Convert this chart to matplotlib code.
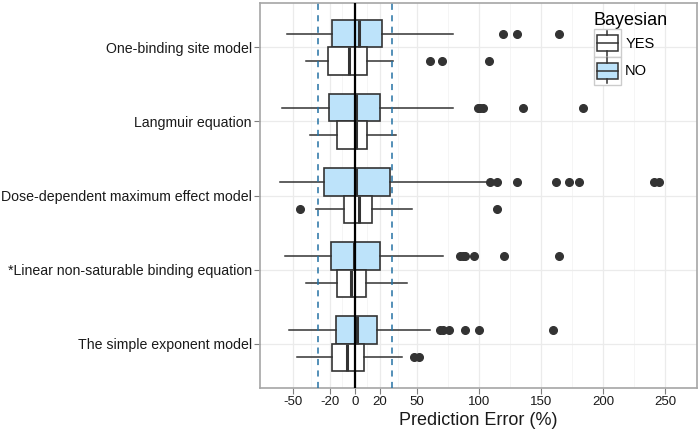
import matplotlib
matplotlib.use("Agg")
import matplotlib.pyplot as plt
import numpy as np
from matplotlib.legend_handler import HandlerBase
from matplotlib.patches import Rectangle, Patch
from matplotlib.lines import Line2D

plt.rcParams["font.family"] = ["Liberation Sans", "DejaVu Sans"]

models = [
    "One-binding site model",
    "Langmuir equation",
    "Dose-dependent maximum effect model",
    "*Linear non-saturable binding equation",
    "The simple exponent model",
]

# Bayesian = NO
no_whislo = [-55, -59, -60, -56, -53]
no_q1 = [-18.5, -20.5, -24.5, -19.5, -15.5]
no_med = [3.5, 0.8, 0.8, -1, 2]
no_q3 = [22, 20, 28, 20.5, 18]
no_whishi = [79.5, 79.5, 106, 71, 61]
no_fliers = [
    [119.5, 131, 165],
    [99, 101, 103, 135.5, 184],
    [109, 115, 131, 162, 173, 180.5, 241.5, 245],
    [84.5, 87, 89, 96.5, 120, 165],
    [69, 71, 76, 89, 100, 160],
]

# Bayesian = YES
yes_whislo = [-39.5, -36.5, -31, -39.5, -46.5]
yes_q1 = [-22, -14.5, -9, -14.5, -18]
yes_med = [-4.5, 1, 3, -3, -6]
yes_q3 = [10, 10, 14, 9, 7.5]
yes_whishi = [30.5, 33.5, 46, 42, 38]
yes_fliers = [
    [61, 70.5, 108.5],
    [],
    [-44.5, 115],
    [],
    [48, 51.5],
]

x_ticks = [-50, -20, 0, 20, 50, 100, 150, 200, 250]
x_minor = [-35, -10, 10, 35, 75, 125, 175, 225]
limit_lines = [-30, 30]

no_color = "#BDE3FA"
yes_color = "#FFFFFF"
edge = "#333333"


def stats(lo, q1, med, q3, hi, fl):
    return [
        dict(whislo=a, q1=b, med=c, q3=d, whishi=e, fliers=f)
        for a, b, c, d, e, f in zip(lo, q1, med, q3, hi, fl)
    ]


fig = plt.figure(figsize=(6.99, 4.34), dpi=100)
ax = fig.add_axes([0.372, 0.106, 0.625, 0.887])

y = np.arange(len(models))[::-1].astype(float)
width = 0.375

for st, pos, color in [
    (stats(no_whislo, no_q1, no_med, no_q3, no_whishi, no_fliers), y + width / 2, no_color),
    (stats(yes_whislo, yes_q1, yes_med, yes_q3, yes_whishi, yes_fliers), y - width / 2, yes_color),
]:
    ax.bxp(
        st, positions=pos, widths=width, vert=False, patch_artist=True,
        showcaps=False, manage_ticks=False,
        boxprops=dict(facecolor=color, edgecolor=edge, linewidth=1.2),
        whiskerprops=dict(color=edge, linewidth=1.1),
        medianprops=dict(color=edge, linewidth=2.2),
        flierprops=dict(marker="o", markerfacecolor=edge, markeredgecolor=edge,
                        markersize=5.5, linestyle="none"),
        zorder=3,
    )

ax.axvline(0, color="black", linewidth=1.6, zorder=5)
for v in limit_lines:
    ax.axvline(v, color="#2472A4", linewidth=1.1, linestyle=(0, (4, 3.5)), zorder=5)

ax.set_xlim(-76.4, 275.8)
ax.set_ylim(-0.6, len(models) - 0.4)
ax.set_xticks(x_ticks)
ax.set_xticklabels([str(t) for t in x_ticks])
ax.set_xticks(x_minor, minor=True)
ax.set_yticks(y)
ax.set_yticklabels(models)
ax.tick_params(axis="both", which="major", length=4, color="#7F7F7F",
               labelcolor="#1A1A1A", pad=2)
ax.tick_params(axis="y", labelsize=10.2)
ax.tick_params(axis="x", labelsize=9.5)
ax.tick_params(axis="x", which="minor", length=0)
ax.grid(True, which="major", color="#EBEBEB", linewidth=0.9, zorder=0)
ax.grid(True, which="minor", axis="x", color="#F4F4F4", linewidth=0.6, zorder=0)
ax.set_axisbelow(True)
for s in ax.spines.values():
    s.set_color("#A6A6A6")
    s.set_linewidth(1.2)

ax.set_xlabel("Prediction Error (%)", fontsize=13, color="#1A1A1A", labelpad=3)


class BoxKey(HandlerBase):
    def create_artists(self, legend, orig_handle, xdescent, ydescent,
                       width, height, fontsize, trans):
        x0, y0 = -xdescent, -ydescent
        bg = Rectangle((x0, y0), width, height, facecolor="white",
                       edgecolor="#CCCCCC", linewidth=1.0, transform=trans)
        bx = Rectangle((x0 + width * 0.12, y0 + height * 0.22), width * 0.76,
                       height * 0.56, facecolor=orig_handle.get_facecolor(),
                       edgecolor=edge, linewidth=1.1, transform=trans)
        xm = x0 + width / 2
        med = Line2D([x0 + width * 0.12, x0 + width * 0.88],
                     [y0 + height / 2] * 2, color=edge, linewidth=1.1, transform=trans)
        w1 = Line2D([xm, xm], [y0 + height * 0.78, y0 + height * 0.95],
                    color=edge, linewidth=1.1, transform=trans)
        w2 = Line2D([xm, xm], [y0 + height * 0.05, y0 + height * 0.22],
                    color=edge, linewidth=1.1, transform=trans)
        return [bg, bx, med, w1, w2]


handles = [Patch(facecolor=yes_color), Patch(facecolor=no_color)]
leg = ax.legend(
    handles, ["YES", "NO"], title="Bayesian", loc="upper left",
    bbox_to_anchor=(0.764, 0.976), frameon=False, fontsize=10.5,
    title_fontsize=13, handler_map={Patch: BoxKey()}, handlelength=1.85,
    handleheight=2.55, labelspacing=0.0, handletextpad=0.3, borderpad=0,
    borderaxespad=0, alignment="left",
)

fig.savefig("out.png", dpi=100)
